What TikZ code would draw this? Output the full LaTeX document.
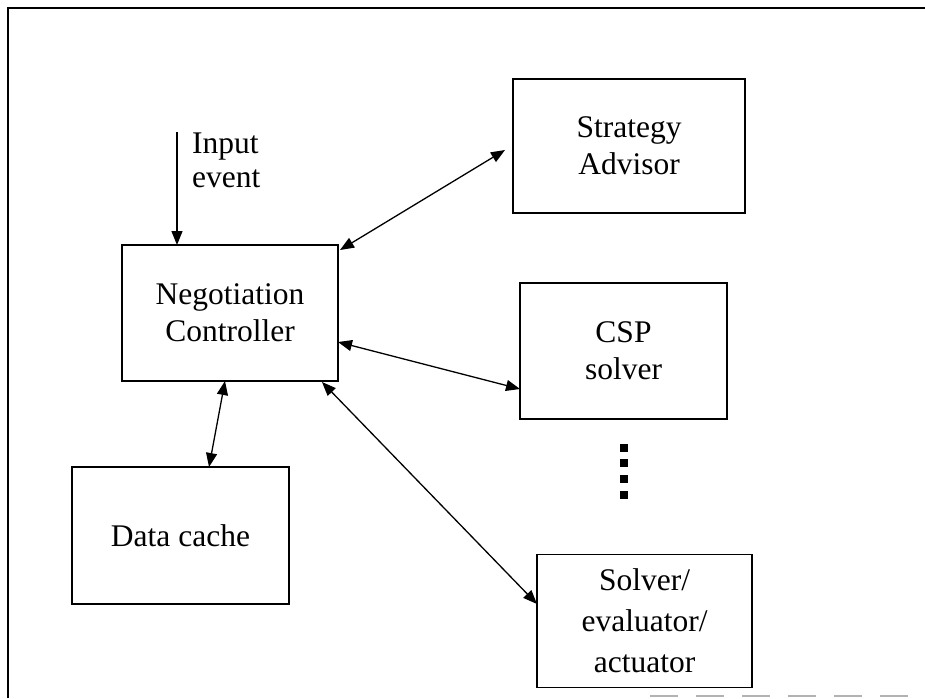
\documentclass[tikz,border=0pt]{standalone}
\usepackage{fontspec}
\setmainfont{Liberation Serif}
\usetikzlibrary{arrows.meta}
\begin{document}
\begin{tikzpicture}[x=1pt,y=-1pt,
  box/.style={draw,line width=1.4pt,rectangle,inner sep=0pt,outer sep=0pt,align=center,
    font=\fontsize{31.5}{37}\selectfont},
  lbl/.style={inner sep=0pt,align=left,font=\fontsize{31.5}{34}\selectfont},
  conn/.style={line width=1.3pt,{Triangle[length=14pt,width=11pt]}-{Triangle[length=14pt,width=11pt]}},
  feed/.style={line width=1.3pt,-{Triangle[length=14pt,width=11pt]}},
  frameline/.style={line width=2pt},
  dotsq/.style={fill=black,inner sep=0pt,minimum size=8pt,outer sep=0pt}]
\useasboundingbox (0,0) rectangle (925,698);
\fill[white] (0,0) rectangle (925,698);
% frame
\draw[frameline] (8,698) -- (8,8) -- (925,8);
\draw[line width=1.5pt,black!30,dash pattern=on 28pt off 18pt] (650,696) -- (925,696);
% boxes
\node[box,minimum width=232pt,minimum height=134pt] (sa) at (629,146) {Strategy\\Advisor};
\node[box,minimum width=216pt,minimum height=136pt] (nc) at (230,313) {Negotiation\\Controller};
\node[box,minimum width=207pt,minimum height=136pt] (csp) at (623.5,351) {CSP\\solver};
\node[box,minimum width=217pt,minimum height=137pt] (dc) at (180.5,535.5) {Data cache};
\node[box,minimum width=215pt,minimum height=133pt,font=\fontsize{31.5}{41}\selectfont] (sol) at (644.5,621) {Solver/\\evaluator/\\actuator};
% dots
\node[dotsq] (d1) at (624,448) {};
\node[dotsq] (d2) at (624,463) {};
\node[dotsq] (d3) at (624,479) {};
\node[dotsq] (d4) at (624,495) {};
% input
\coordinate (inp) at (177,132);
\node[lbl,anchor=north west] (inlbl) at (192,133) {Input\\event};
\draw[feed] (inp) -- ([xshift=-53pt]nc.north);
% connectors
\draw[conn] ([xshift=2pt,yshift=-5pt]nc.north east) -- ([xshift=-8pt,yshift=-4pt]sa.west);
\draw[conn] ([yshift=-29pt]nc.east) -- ([yshift=-38pt]csp.west);
\draw[conn] ([xshift=-16pt,yshift=-1pt]nc.south east) -- ([yshift=17pt]sol.west);
\draw[conn] ([xshift=-5pt]nc.south) -- ([xshift=28.5pt]dc.north);
\end{tikzpicture}
\end{document}
